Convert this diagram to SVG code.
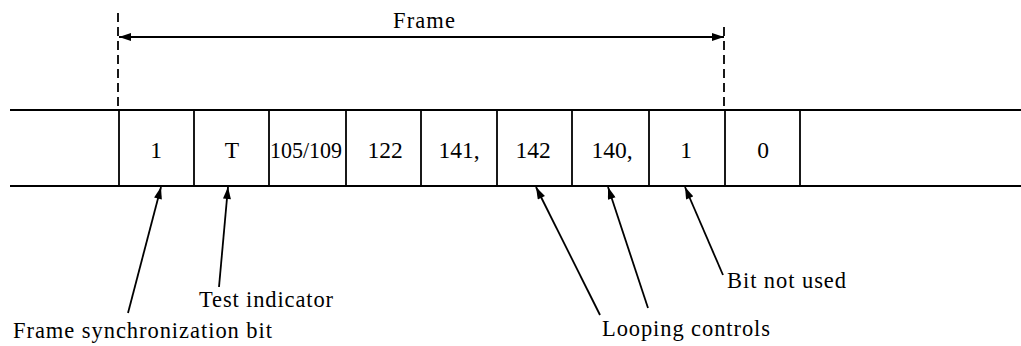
<svg xmlns="http://www.w3.org/2000/svg" width="1021" height="346" viewBox="0 0 1021 346">
<style>
.ln{stroke:#000;stroke-width:1.8;fill:none}
.dash{stroke:#000;stroke-width:1.8;stroke-dasharray:9,5;fill:none}
.t{font-family:"Liberation Serif","Times New Roman",serif;font-size:22.5px;fill:#000}
.c{font-family:"Liberation Serif","Times New Roman",serif;font-size:23.5px;fill:#000;text-anchor:middle}
</style>
<defs>
<marker id="ah" viewBox="0 0 12 8" refX="12" refY="4" markerWidth="13" markerHeight="8" markerUnits="userSpaceOnUse" orient="auto-start-reverse">
<path d="M0,0 L12,4 L0,8 Z" fill="#000"/>
</marker>
</defs>
<rect width="1021" height="346" fill="#fff"/>
<g id="frame-bar">
<line class="ln" x1="10" y1="110" x2="1021" y2="110"/>
<line class="ln" x1="10" y1="186" x2="1021" y2="186"/>
</g>
<g id="cell-1"><line class="ln" x1="119" y1="110" x2="119" y2="186"/><text class="c" x="156" y="158">1</text></g>
<g id="cell-T"><line class="ln" x1="194" y1="110" x2="194" y2="186"/><text class="c" x="232" y="158">T</text></g>
<g id="cell-105"><line class="ln" x1="269" y1="110" x2="269" y2="186"/><text class="c" x="306" y="158" textLength="72" lengthAdjust="spacingAndGlyphs">105/109</text></g>
<g id="cell-122"><line class="ln" x1="346" y1="110" x2="346" y2="186"/><text class="c" x="385" y="158">122</text></g>
<g id="cell-141"><line class="ln" x1="421" y1="110" x2="421" y2="186"/><text class="c" x="459" y="158">141,</text></g>
<g id="cell-142"><line class="ln" x1="497" y1="110" x2="497" y2="186"/><text class="c" x="533" y="158">142</text></g>
<g id="cell-140"><line class="ln" x1="572" y1="110" x2="572" y2="186"/><text class="c" x="612" y="158">140,</text></g>
<g id="cell-1b"><line class="ln" x1="649" y1="110" x2="649" y2="186"/><text class="c" x="686" y="158">1</text></g>
<g id="cell-0"><line class="ln" x1="725" y1="110" x2="725" y2="186"/><text class="c" x="763" y="158">0</text></g>
<g id="cell-end"><line class="ln" x1="800" y1="110" x2="800" y2="186"/></g>
<g id="frame-dim">
<line class="dash" x1="118" y1="13" x2="118" y2="110"/>
<line class="dash" x1="724" y1="27" x2="724" y2="110"/>
<line class="ln" x1="119" y1="37" x2="724" y2="37" marker-start="url(#ah)" marker-end="url(#ah)"/>
<text class="t" x="393" y="28" textLength="62" lengthAdjust="spacing">Frame</text>
</g>
<g id="connectors">
<line class="ln" x1="128" y1="313" x2="161" y2="187" marker-end="url(#ah)"/>
<line class="ln" x1="219" y1="287" x2="228" y2="187" marker-end="url(#ah)"/>
<line class="ln" x1="600" y1="315" x2="536" y2="187" marker-end="url(#ah)"/>
<line class="ln" x1="648" y1="308" x2="608" y2="187" marker-end="url(#ah)"/>
<line class="ln" x1="723" y1="275" x2="685" y2="187" marker-end="url(#ah)"/>
</g>
<g id="labels">
<text class="t" x="13" y="338" textLength="259" lengthAdjust="spacing">Frame synchronization bit</text>
<text class="t" x="199" y="307" textLength="134" lengthAdjust="spacing">Test indicator</text>
<text class="t" x="602" y="336" textLength="168" lengthAdjust="spacing">Looping controls</text>
<text class="t" x="727" y="288" textLength="119" lengthAdjust="spacing">Bit not used</text>
</g>
</svg>
